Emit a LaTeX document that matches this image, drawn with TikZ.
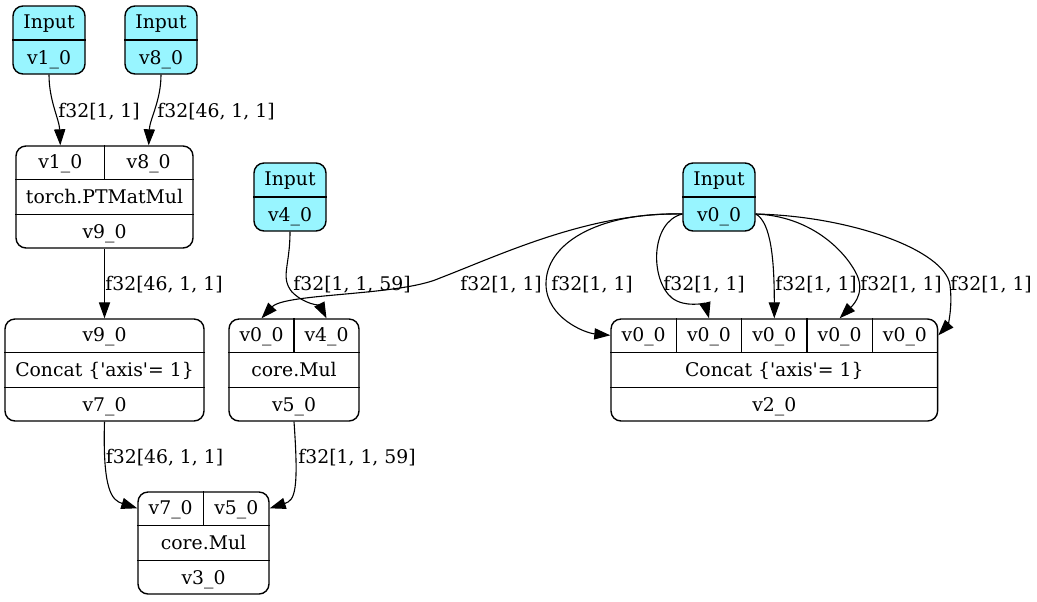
\documentclass[tikz,border=0pt]{standalone}
\usepackage{fontspec}
\setmainfont{DejaVu Serif}
\usetikzlibrary{arrows.meta}
\definecolor{inputcyan}{HTML}{98F5FF}

\begin{document}
\begin{tikzpicture}[x=0.5pt,y=-0.5pt,font=\fontsize{9.4}{11.3}\selectfont]
    \tikzset{rec/.style={draw, rounded corners=5pt, line width=0.7pt, inner sep=0pt, minimum height=51pt},
        inp/.style={rec, fill=inputcyan, minimum width=36pt, minimum height=34pt},
        sep/.style={line width=0.7pt},
        txt/.style={anchor=base, yshift=-3.3pt, inner sep=0pt},
        lab/.style={anchor=base west, inner sep=0pt},
        edge/.style={line width=0.55pt, -{Triangle[length=8pt,width=5.6pt]}}}
    \useasboundingbox (0,0) rectangle (1037,601);

    % inputs
    \foreach \n/\x/\y/\vn in {in1/49/40/v1\_0, in8/161/40/v8\_0, in4/290/197/v4\_0, in0/719/197/v0\_0} {
        \node[inp] (\n) at (\x,\y) {};
        \draw[sep] (\n.west) -- (\n.east);
        \node[txt] (\n-op) at ([yshift=-8.5pt]\n.north) {Input};
        \node[txt] (\n-out) at ([yshift=8.5pt]\n.south) {\vn};
    }

    % torch.PTMatMul
    \node[rec, minimum width=88.5pt] (mm) at (104.5,197) {};
    \draw[sep] ([yshift=-17pt]mm.north west) -- ([yshift=-17pt]mm.north east)
        ([yshift=17pt]mm.south west) -- ([yshift=17pt]mm.south east)
        (mm.north) -- ([yshift=-17pt]mm.north);
    \node[txt] (mm-a) at ([shift={(-22.1pt,-8.5pt)}]mm.north) {v1\_0};
    \node[txt] (mm-b) at ([shift={(22.1pt,-8.5pt)}]mm.north) {v8\_0};
    \node[txt] (mm-op) at (mm.center) {torch.PTMatMul};
    \node[txt] (mm-out) at ([yshift=8.5pt]mm.south) {v9\_0};

    % Concat v7
    \node[rec, minimum width=99.5pt] (cc9) at (104.5,370) {};
    \draw[sep] ([yshift=-17pt]cc9.north west) -- ([yshift=-17pt]cc9.north east)
        ([yshift=17pt]cc9.south west) -- ([yshift=17pt]cc9.south east);
    \node[txt] (cc9-a) at ([yshift=-8.5pt]cc9.north) {v9\_0};
    \node[txt] (cc9-op) at (cc9.center) {Concat \{\textquotesingle axis\textquotesingle= 1\}};
    \node[txt] (cc9-out) at ([yshift=8.5pt]cc9.south) {v7\_0};

    % core.Mul v5
    \node[rec, minimum width=65pt] (mul5) at (294,370) {};
    \draw[sep] ([yshift=-17pt]mul5.north west) -- ([yshift=-17pt]mul5.north east)
        ([yshift=17pt]mul5.south west) -- ([yshift=17pt]mul5.south east)
        (mul5.north) -- ([yshift=-17pt]mul5.north);
    \node[txt] (mul5-a) at ([shift={(-16.25pt,-8.5pt)}]mul5.north) {v0\_0};
    \node[txt] (mul5-b) at ([shift={(16.25pt,-8.5pt)}]mul5.north) {v4\_0};
    \node[txt] (mul5-op) at (mul5.center) {core.Mul};
    \node[txt] (mul5-out) at ([yshift=8.5pt]mul5.south) {v5\_0};

    % core.Mul v3
    \node[rec, minimum width=65.5pt] (mul3) at (203.5,543) {};
    \draw[sep] ([yshift=-17pt]mul3.north west) -- ([yshift=-17pt]mul3.north east)
        ([yshift=17pt]mul3.south west) -- ([yshift=17pt]mul3.south east)
        (mul3.north) -- ([yshift=-17pt]mul3.north);
    \node[txt] (mul3-a) at ([shift={(-16.4pt,-8.5pt)}]mul3.north) {v7\_0};
    \node[txt] (mul3-b) at ([shift={(16.4pt,-8.5pt)}]mul3.north) {v5\_0};
    \node[txt] (mul3-op) at (mul3.center) {core.Mul};
    \node[txt] (mul3-out) at ([yshift=8.5pt]mul3.south) {v3\_0};

    % Concat v2
    \node[rec, minimum width=163.3pt] (cc2) at (774.3,370) {};
    \draw[sep] ([yshift=-17pt]cc2.north west) -- ([yshift=-17pt]cc2.north east)
        ([yshift=17pt]cc2.south west) -- ([yshift=17pt]cc2.south east);
    \foreach \k in {1,...,4}
        \draw[sep] ([xshift={(\k-2.5)*32.66pt}]cc2.north) -- ([shift={({(\k-2.5)*32.66pt},-17pt)}]cc2.north);
    \foreach \k in {1,...,5}
        \node[txt] (cc2-\k) at ([shift={({(\k-3)*32.66pt},-8.5pt)}]cc2.north) {v0\_0};
    \node[txt] (cc2-op) at (cc2.center) {Concat \{\textquotesingle axis\textquotesingle= 1\}};
    \node[txt] (cc2-out) at ([yshift=8.5pt]cc2.south) {v2\_0};

    % edges
    \draw[edge] (in1.south) .. controls +(0,26) and +(-1,-26) .. ([xshift=-22.1pt]mm.north);
    \draw[edge] (in8.south) .. controls +(0,26) and +(1,-26) .. ([xshift=22.1pt]mm.north);
    \draw[edge] (mm.south) -- (cc9.north);
    \draw[edge] (cc9.south) .. controls +(-2,70) and +(-25,-8) .. ([yshift=-8.5pt]mul3.north west);
    \draw[edge] (mul5.south) .. controls +(5,70) and +(25,-8) .. ([yshift=-8.5pt]mul3.north east);
    \draw[edge] (in4.south) .. controls +(0,35) and +(-12,-15) .. (292,292)
        .. controls +(12,12) and +(-6,-12) .. ([xshift=16.25pt]mul5.north);
    \draw[edge] ([yshift=-8.5pt]in0.west) .. controls (590,212) and (500,255) .. (440,278)
        .. controls (400,296) and (285,293) .. ([xshift=-16.25pt]mul5.north);
    \draw[edge] ([yshift=-8.5pt]in0.west) .. controls (595,212) and (545,245) .. (546,285)
        .. controls (547,318) and (585,333) .. ([yshift=-8.5pt]cc2.north west);
    \draw[edge] ([yshift=-8.5pt]in0.west) .. controls (650,222) and (650,280) .. (672,298)
        .. controls (685,308) and (705,303) .. ([xshift=-32.66pt]cc2.north);
    \draw[edge] ([yshift=-8.5pt]in0.east) .. controls +(15,8) and +(0,-60) .. (cc2.north);
    \draw[edge] ([yshift=-8.5pt]in0.east) .. controls (810,216) and (845,250) .. (857,275)
        .. controls (866,295) and (850,308) .. ([xshift=32.66pt]cc2.north);
    \draw[edge] ([yshift=-8.5pt]in0.east) .. controls (850,216) and (945,250) .. (950,285)
        .. controls (953,310) and (947,326) .. ([yshift=-8.5pt]cc2.north east);

    % edge labels
    \node[lab] (l1) at (58,117) {f32[1, 1]};
    \node[lab] (l2) at (157,117) {f32[46, 1, 1]};
    \node[lab] (l3) at (105,290) {f32[46, 1, 1]};
    \node[lab] (l4) at (293,290) {f32[1, 1, 59]};
    \foreach \x [count=\i] in {460,551,663,775,860,950}
        \node[lab] (lv\i) at (\x,290) {f32[1, 1]};
    \node[lab] (l5) at (105.5,463) {f32[46, 1, 1]};
    \node[lab] (l6) at (298,463) {f32[1, 1, 59]};
\end{tikzpicture}
\end{document}
